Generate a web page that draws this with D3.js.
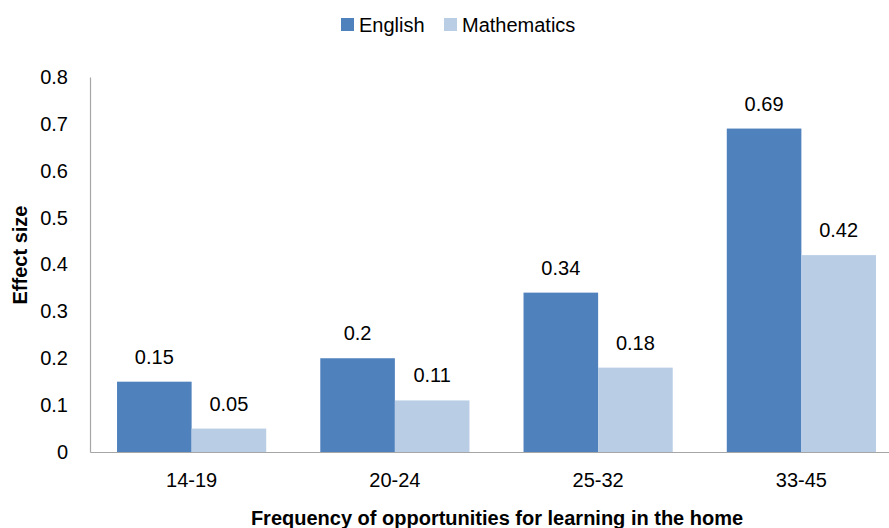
<!DOCTYPE html>
<html>
<head>
<meta charset="utf-8">
<script src="https://cdn.jsdelivr.net/npm/d3@7"></script>
<style>
  body { margin: 0; background: #fff; }
  text { font-family: "Liberation Sans", Arial, sans-serif; fill: #000; }
</style>
</head>
<body>
<div id="chart"></div>
<script>
// chart data
const categories = ["14-19", "20-24", "25-32", "33-45"];
const seriesNames = ["English", "Mathematics"];
const english = [0.15, 0.2, 0.34, 0.69];
const mathematics = [0.05, 0.11, 0.18, 0.42];
const englishLabels = ["0.15", "0.2", "0.34", "0.69"];
const mathLabels = ["0.05", "0.11", "0.18", "0.42"];
const yTicks = [0, 0.1, 0.2, 0.3, 0.4, 0.5, 0.6, 0.7, 0.8];
const colors = ["#4F81BD", "#B9CDE5"];

const width = 889, height = 528;
const fontSize = "20px";
const svg = d3.select("#chart").append("svg")
  .attr("width", width)
  .attr("height", height);

// plot area (right side is cut off in the original)
const x = d3.scaleBand()
  .domain(categories)
  .range([90, 903])
  .paddingInner(0.266)
  .paddingOuter(0.133);

const xSub = d3.scaleBand()
  .domain(seriesNames)
  .range([0, x.bandwidth()]);

const y = d3.scaleLinear()
  .domain([0, 0.8])
  .range([452, 77]);

// bars
const rows = categories.map((c, i) => ({
  cat: c,
  vals: [
    { s: "English", v: english[i], label: englishLabels[i] },
    { s: "Mathematics", v: mathematics[i], label: mathLabels[i] }
  ]
}));

const groups = svg.selectAll("g.grp")
  .data(rows)
  .enter().append("g")
  .attr("class", "grp")
  .attr("transform", d => `translate(${x(d.cat)},0)`);

groups.selectAll("rect")
  .data(d => d.vals)
  .enter().append("rect")
  .attr("x", d => xSub(d.s))
  .attr("y", d => y(d.v))
  .attr("width", xSub.bandwidth())
  .attr("height", d => y(0) - y(d.v))
  .attr("fill", (d, i) => colors[i]);

groups.selectAll("text.val")
  .data(d => d.vals)
  .enter().append("text")
  .attr("class", "val")
  .attr("x", d => xSub(d.s) + xSub.bandwidth() / 2)
  .attr("y", d => y(d.v) - 18)
  .attr("text-anchor", "middle")
  .style("font-size", fontSize)
  .text(d => d.label);

// y axis
const yAxis = svg.append("g")
  .attr("transform", "translate(90,0)")
  .call(d3.axisLeft(y).tickValues(yTicks).tickSize(0).tickPadding(22)
    .tickFormat(d => d === 0 ? "0" : d3.format(".1f")(d)));
yAxis.select(".domain").attr("stroke", "#a6a6a6").attr("stroke-width", 1.2);
yAxis.selectAll("text")
  .style("font-size", fontSize)
  .style("font-family", "'Liberation Sans', Arial, sans-serif")
  .attr("fill", "#000");

// x axis
const xAxis = svg.append("g")
  .attr("transform", `translate(0,${y(0)})`)
  .call(d3.axisBottom(x).tickSize(0).tickPadding(21));
xAxis.select(".domain").attr("stroke", "#a6a6a6").attr("stroke-width", 1.2);
xAxis.selectAll("text")
  .style("font-size", fontSize)
  .style("font-family", "'Liberation Sans', Arial, sans-serif")
  .attr("fill", "#000");

// axis titles
svg.append("text")
  .attr("transform", "translate(27,255) rotate(-90)")
  .attr("text-anchor", "middle")
  .style("font-size", fontSize)
  .style("font-weight", "bold")
  .text("Effect size");

svg.append("text")
  .attr("x", 497)
  .attr("y", 525)
  .attr("text-anchor", "middle")
  .style("font-size", fontSize)
  .style("font-weight", "bold")
  .text("Frequency of opportunities for learning in the home");

// legend
const legendX = [341, 444];
const legend = svg.selectAll("g.leg")
  .data(seriesNames)
  .enter().append("g")
  .attr("class", "leg")
  .attr("transform", (d, i) => `translate(${legendX[i]},18)`);
legend.append("rect")
  .attr("width", 13).attr("height", 13)
  .attr("fill", (d, i) => colors[i]);
legend.append("text")
  .attr("x", 18).attr("y", 14)
  .style("font-size", fontSize)
  .text(d => d);
</script>
</body>
</html>
